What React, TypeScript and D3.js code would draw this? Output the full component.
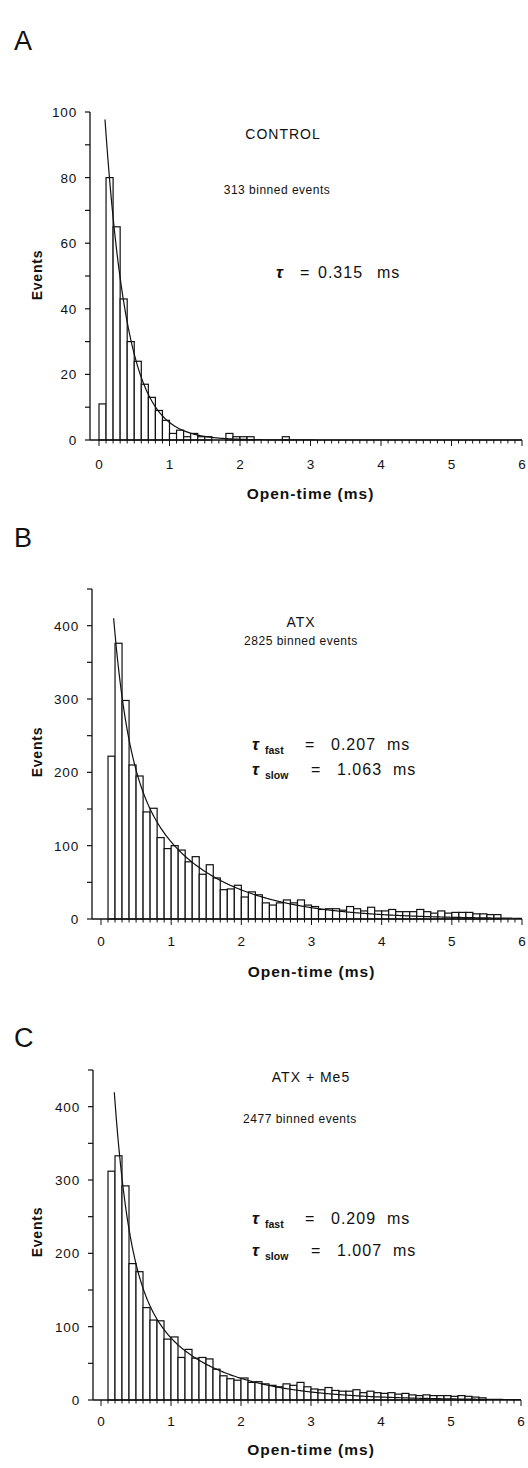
import React from 'react';
import * as d3 from 'd3';

// ---------- data ----------
const xTickValues = [0, 1, 2, 3, 4, 5, 6];
const binWidth = 0.1;

// Panel A – CONTROL
const countsA = [11, 80, 65, 43, 30, 24, 17, 13, 9, 6, 2, 3, 1, 2, 1, 1, 0, 0, 2, 1, 1, 1, 0, 0, 0, 0, 1];
const binStartA = 0;
const yTicksA = [0, 10, 20, 30, 40, 50, 60, 70, 80, 90, 100];
const yLabelsA = [0, 20, 40, 60, 80, 100];
const fitA = { amps: [128], taus: [0.315], start: 0.085 };

// Panel B – ATX
const countsB = [222, 376, 298, 210, 195, 146, 151, 111, 96, 100, 94, 78, 85, 61, 74, 56, 40, 41, 46, 30,
  37, 33, 22, 19, 22, 26, 22, 26, 19, 17, 13, 14, 14, 12, 17, 14, 11, 16, 11, 11,
  13, 10, 10, 10, 13, 10, 8, 11, 8, 9, 9, 9, 7, 7, 6, 6];
const binStartB = 0.1;
const yTicksB = [0, 50, 100, 150, 200, 250, 300, 350, 400, 450];
const yLabelsB = [0, 100, 200, 300, 400];
const fitB = { amps: [455, 260], taus: [0.207, 1.063], start: 0.18 };

// Panel C – ATX + Me5
const countsC = [312, 333, 292, 186, 175, 126, 109, 108, 83, 86, 58, 69, 57, 58, 56, 42, 33, 29,
  27, 30, 24, 25, 22, 20, 18, 22, 20, 24, 18, 15, 14, 17, 13, 12, 12, 14, 10, 12, 10, 9,
  10, 8, 9, 7, 6, 7, 6, 6, 6, 5, 6, 5, 4, 3];
const binStartC = 0.1;
const yTicksC = yTicksB;
const yLabelsC = yLabelsB;
const fitC = { amps: [600, 215], taus: [0.209, 1.007], start: 0.19 };

const titles = ['CONTROL', 'ATX', 'ATX + Me5'];
const eventTexts = ['313 binned events', '2825 binned events', '2477 binned events'];
const panelLetters = ['A', 'B', 'C'];
const tauA = ['0.315'];
const tauB = ['0.207', '1.063'];
const tauC = ['0.209', '1.007'];

// ---------- layout ----------
const FONT = '"Liberation Sans", Arial, sans-serif';

const layouts = [
  { axisX: 90, x0: 99, x6: 522, yZero: 440, yTop: 112, yMax: 100, letterY: 50,
    titleX: 283, titleY: 139, evX: 277, evY: 194, tauX: 276, tauY: [278], xLabY: 469, xTitleY: 499, evLabY: 275 },
  { axisX: 92, x0: 101, x6: 522, yZero: 919, yTop: 589, yMax: 450, letterY: 547,
    titleX: 301, titleY: 627, evX: 301, evY: 645, tauX: 252, tauY: [750, 775], xLabY: 946, xTitleY: 977, evLabY: 752 },
  { axisX: 93, x0: 101, x6: 521, yZero: 1400, yTop: 1070, yMax: 450, letterY: 1047,
    titleX: 311, titleY: 1082, evX: 300, evY: 1123, tauX: 252, tauY: [1224, 1256], xLabY: 1426, xTitleY: 1455, evLabY: 1232 },
];

const panels = [
  { counts: countsA, binStart: binStartA, yTicks: yTicksA, yLabels: yLabelsA, fit: fitA, taus: tauA },
  { counts: countsB, binStart: binStartB, yTicks: yTicksB, yLabels: yLabelsB, fit: fitB, taus: tauB },
  { counts: countsC, binStart: binStartC, yTicks: yTicksC, yLabels: yLabelsC, fit: fitC, taus: tauC },
];

function Panel({ idx }: { idx: number }) {
  const p = panels[idx];
  const L = layouts[idx];
  const x = d3.scaleLinear().domain([0, 6]).range([L.x0, L.x6]);
  const y = d3.scaleLinear().domain([0, L.yMax]).range([L.yZero, L.yTop]);
  const minorTicks = d3.range(0, 61).map((i) => i / 10);
  const fitFn = (t: number) => p.fit.amps.reduce((s, a, k) => s + a * Math.exp(-t / p.fit.taus[k]), 0);
  const tvals = d3.range(p.fit.start, 6.0001, 0.01);
  const line = d3.line<number>().x((t) => x(t)).y((t) => y(Math.min(fitFn(t), L.yMax)));
  const tauLines = p.taus.length === 1
    ? [{ sub: '', v: p.taus[0], dx: 0 }]
    : [{ sub: 'fast', v: p.taus[0], dx: 0 }, { sub: 'slow', v: p.taus[1], dx: 6 }];

  return (
    <g>
      <text x={14} y={L.letterY} fontSize={27} fontFamily={FONT} fill="#111">{panelLetters[idx]}</text>
      {/* bars */}
      {p.counts.map((c, i) => c > 0 ? (
        <rect key={i}
          x={x(p.binStart + i * binWidth)}
          y={y(c)}
          width={x(p.binStart + (i + 1) * binWidth) - x(p.binStart + i * binWidth)}
          height={y(0) - y(c)}
          fill="#fff" stroke="#111" strokeWidth={1.2} />
      ) : null)}
      {/* fit curve */}
      <path d={line(tvals) || ''} fill="none" stroke="#111" strokeWidth={1.2} />
      {/* y axis */}
      <line x1={L.axisX} x2={L.axisX} y1={L.yZero} y2={L.yTop} stroke="#111" strokeWidth={1.3} />
      {p.yTicks.map((t) => (
        <line key={'yt' + t} x1={L.axisX - 5} x2={L.axisX} y1={y(t)} y2={y(t)} stroke="#111" strokeWidth={1.2} />
      ))}
      {p.yLabels.map((t) => (
        <text key={'yl' + t} x={L.axisX - 13} y={y(t) + 5} textAnchor="end" fontSize={13.5} letterSpacing={0.8}
          fontFamily={FONT} fill="#111">{t}</text>
      ))}
      {/* x axis */}
      <line x1={L.axisX} x2={L.x6} y1={L.yZero} y2={L.yZero} stroke="#111" strokeWidth={1.4} />
      {minorTicks.map((t) => (
        <line key={'xm' + t} x1={x(t)} x2={x(t)} y1={L.yZero} y2={L.yZero + (Math.abs(t - Math.round(t)) < 1e-6 ? 6 : 3.5)}
          stroke="#111" strokeWidth={1} />
      ))}
      {xTickValues.map((t) => (
        <text key={'xl' + t} x={x(t)} y={L.xLabY} textAnchor="middle" fontSize={13.5} fontFamily={FONT} fill="#111">{t}</text>
      ))}
      <text x={(L.x0 + L.x6) / 2 + 0} y={L.xTitleY} textAnchor="middle" fontSize={15.5} fontWeight={700} letterSpacing={1}
        fontFamily={FONT} fill="#111">Open-time (ms)</text>
      <text transform={`translate(42,${L.evLabY}) rotate(-90)`} textAnchor="middle" fontSize={14} fontWeight={700}
        letterSpacing={0.8} fontFamily={FONT} fill="#111">Events</text>
      {/* annotations */}
      <text x={L.titleX} y={L.titleY} textAnchor="middle" fontSize={14} fontWeight={500} letterSpacing={1} fontFamily={FONT} fill="#111">{titles[idx]}</text>
      <text x={L.evX} y={L.evY} textAnchor="middle" fontSize={12} letterSpacing={0.5} fontFamily={FONT} fill="#111">{eventTexts[idx]}</text>
      {tauLines.map((tl, k) => (
        <g key={'tau' + k}>
          <text x={L.tauX} y={L.tauY[k]} fontSize={17} fontStyle="italic" fontWeight={700} fontFamily={FONT} fill="#111">τ</text>
          {tl.sub ? (
            <text x={L.tauX + 13} y={L.tauY[k] + 4} fontSize={10.5} fontWeight={700} fontFamily={FONT} fill="#111">{tl.sub}</text>
          ) : null}
          <text x={L.tauX + tl.dx + (tl.sub ? 53 : 24)} y={L.tauY[k]} fontSize={16} fontFamily={FONT} fill="#111">=</text>
          <text x={L.tauX + tl.dx + (tl.sub ? 79 : 42)} y={L.tauY[k]} fontSize={16} letterSpacing={1} fontFamily={FONT} fill="#111">{tl.v}</text>
          <text x={L.tauX + tl.dx + (tl.sub ? 135 : 101)} y={L.tauY[k]} fontSize={16} letterSpacing={1} fontFamily={FONT} fill="#111">ms</text>
        </g>
      ))}
    </g>
  );
}

export default function App() {
  return (
    <svg width={528} height={1468} viewBox="0 0 528 1468"
      style={{ position: 'absolute', left: 0, top: 0, background: '#fff' }}>
      <rect x={0} y={0} width={528} height={1468} fill="#fff" />
      <Panel idx={0} />
      <Panel idx={1} />
      <Panel idx={2} />
    </svg>
  );
}
